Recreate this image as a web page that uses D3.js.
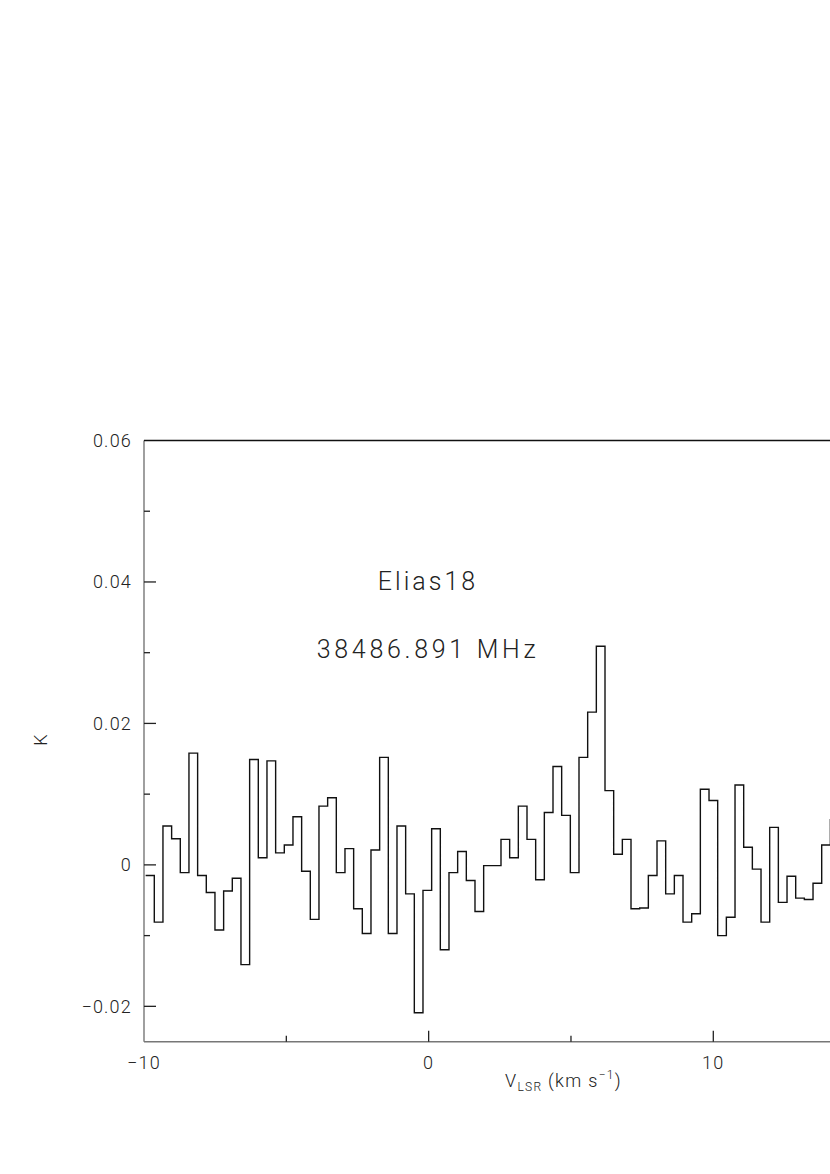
<!DOCTYPE html>
<html>
<head>
<meta charset="utf-8">
<script src="https://cdn.jsdelivr.net/npm/d3@7"></script>
<style>
  html, body { margin: 0; padding: 0; background: #fff; overflow: hidden; }
  text { font-family: Roboto, "Liberation Sans", sans-serif; font-weight: 300; fill: #222; }
</style>
</head>
<body>
<div id="root"></div>
<script>
// spectrum: channel grid (km/s) and antenna temperature (K)
var firstEdge = -9.943;
var channelWidth = 0.3045;
var tempK = [
  -0.0015, -0.0081, 0.0055, 0.0037, -0.0011, 0.0158, -0.0015, -0.0039, -0.0092, -0.0037,
  -0.0019, -0.0141, 0.0149, 0.0010, 0.0147, 0.0017, 0.0028, 0.0068, -0.0009, -0.0077,
  0.0083, 0.0095, -0.0011, 0.0023, -0.0062, -0.0097, 0.0021, 0.0152, -0.0097, 0.0055,
  -0.0041, -0.0209, -0.0036, 0.0051, -0.0120, -0.0011, 0.0019, -0.0022, -0.0066, -0.0001,
  -0.0001, 0.0036, 0.0010, 0.0083, 0.0036, -0.0021, 0.0074, 0.0139, 0.0070, -0.0011,
  0.0152, 0.0216, 0.0309, 0.0105, 0.0015, 0.0036, -0.0062, -0.0061, -0.0015, 0.0034,
  -0.0041, -0.0015, -0.0081, -0.0069, 0.0107, 0.0091, -0.0100, -0.0074, 0.0113, 0.0025,
  -0.0006, -0.0081, 0.0053, -0.0053, -0.0016, -0.0047, -0.0049, -0.0026, 0.0028, 0.0064
];

// ticks and labels
var xMajor = [-10, 0, 10];
var xMinor = [-5, 5, 15];
var yMajor = [0.06, 0.04, 0.02, 0, -0.02];
var yMinor = [0.05, 0.03, 0.01, -0.01];
var sourceName = "Elias18";
var lineFreq = "38486.891 MHz";

// layout
var plotLeft = 144, plotTop = 440.5, plotBottom = 1041.7;
var x = d3.scaleLinear().domain([-10, 20]).range([plotLeft, plotLeft + 30 * 28.465]);
var y = d3.scaleLinear().domain([-0.025, 0.06]).range([plotBottom, plotTop]);

var svg = d3.select("#root")
  .append("svg")
  .attr("width", 830)
  .attr("height", 1174);

svg.append("rect").attr("width", 830).attr("height", 1174).attr("fill", "#fff");

svg.append("clipPath").attr("id", "plot")
  .append("rect")
  .attr("x", plotLeft).attr("y", plotTop)
  .attr("width", x(20) - plotLeft).attr("height", plotBottom - plotTop);

// step line built from channel edges
var steps = tempK.map(function (t, i) { return {v: firstEdge + i * channelWidth, t: t}; });
steps.push({v: firstEdge + tempK.length * channelWidth, t: tempK[tempK.length - 1]});

var line = d3.line()
  .x(function (d) { return x(d.v); })
  .y(function (d) { return y(d.t); })
  .curve(d3.curveStepAfter);

svg.append("path")
  .datum(steps)
  .attr("clip-path", "url(#plot)")
  .attr("d", line)
  .attr("fill", "none")
  .attr("stroke", "#111")
  .attr("stroke-width", 1.4);

// frame: grey left and bottom axes, black top
svg.append("line")
  .attr("x1", plotLeft).attr("x2", plotLeft).attr("y1", plotTop).attr("y2", plotBottom)
  .attr("stroke", "#777").attr("stroke-width", 1.4);
svg.append("line")
  .attr("x1", plotLeft).attr("x2", x(20)).attr("y1", plotBottom).attr("y2", plotBottom)
  .attr("stroke", "#777").attr("stroke-width", 1.4);
svg.append("line")
  .attr("x1", plotLeft).attr("x2", x(20)).attr("y1", plotTop).attr("y2", plotTop)
  .attr("stroke", "#111").attr("stroke-width", 1.4);

// x ticks
svg.append("g").selectAll("line").data(xMajor.slice(1)).enter().append("line")
  .attr("x1", function (d) { return x(d); }).attr("x2", function (d) { return x(d); })
  .attr("y1", plotBottom).attr("y2", plotBottom - 11)
  .attr("stroke", "#222").attr("stroke-width", 1.3);
svg.append("g").selectAll("line").data(xMinor).enter().append("line")
  .attr("x1", function (d) { return x(d); }).attr("x2", function (d) { return x(d); })
  .attr("y1", plotBottom).attr("y2", plotBottom - 6)
  .attr("stroke", "#222").attr("stroke-width", 1.3);
svg.append("g").selectAll("text").data(xMajor).enter().append("text")
  .attr("x", function (d) { return x(d); })
  .attr("y", 1069)
  .attr("text-anchor", "middle")
  .attr("font-size", 18)
  .attr("letter-spacing", 1.2)
  .text(function (d) { return d < 0 ? "\u2212" + Math.abs(d) : d; });

// y ticks
svg.append("g").selectAll("line").data(yMajor.slice(1)).enter().append("line")
  .attr("x1", plotLeft).attr("x2", plotLeft + 12)
  .attr("y1", function (d) { return y(d); }).attr("y2", function (d) { return y(d); })
  .attr("stroke", "#222").attr("stroke-width", 1.3);
svg.append("g").selectAll("line").data(yMinor).enter().append("line")
  .attr("x1", plotLeft).attr("x2", plotLeft + 6)
  .attr("y1", function (d) { return y(d); }).attr("y2", function (d) { return y(d); })
  .attr("stroke", "#222").attr("stroke-width", 1.3);
svg.append("g").selectAll("text").data(yMajor).enter().append("text")
  .attr("x", 132)
  .attr("y", function (d) { return y(d) + 6.5; })
  .attr("text-anchor", "end")
  .attr("font-size", 18)
  .attr("letter-spacing", 1.2)
  .text(function (d) { return d === 0 ? "0" : (d < 0 ? "\u2212" : "") + Math.abs(d).toFixed(2); });

// axis titles
svg.append("text")
  .attr("transform", "translate(47,740) rotate(-90)")
  .attr("text-anchor", "middle")
  .attr("font-size", 18)
  .text("K");

var xt = svg.append("text")
  .attr("x", 505).attr("y", 1087)
  .attr("font-size", 18)
  .attr("letter-spacing", 1.3);
xt.append("tspan").text("V");
xt.append("tspan").attr("font-size", 12).attr("dy", 4).text("LSR");
xt.append("tspan").attr("dy", -4).text(" (km s");
xt.append("tspan").attr("font-size", 12).attr("dy", -8).text("\u22121");
xt.append("tspan").attr("dy", 8).text(")");

// annotation
svg.append("text")
  .attr("x", 428).attr("y", 590)
  .attr("text-anchor", "middle")
  .attr("font-size", 25)
  .attr("letter-spacing", 3)
  .text(sourceName);
svg.append("text")
  .attr("x", 428).attr("y", 658)
  .attr("text-anchor", "middle")
  .attr("font-size", 25)
  .attr("letter-spacing", 3.7)
  .text(lineFreq);
</script>
</body>
</html>
